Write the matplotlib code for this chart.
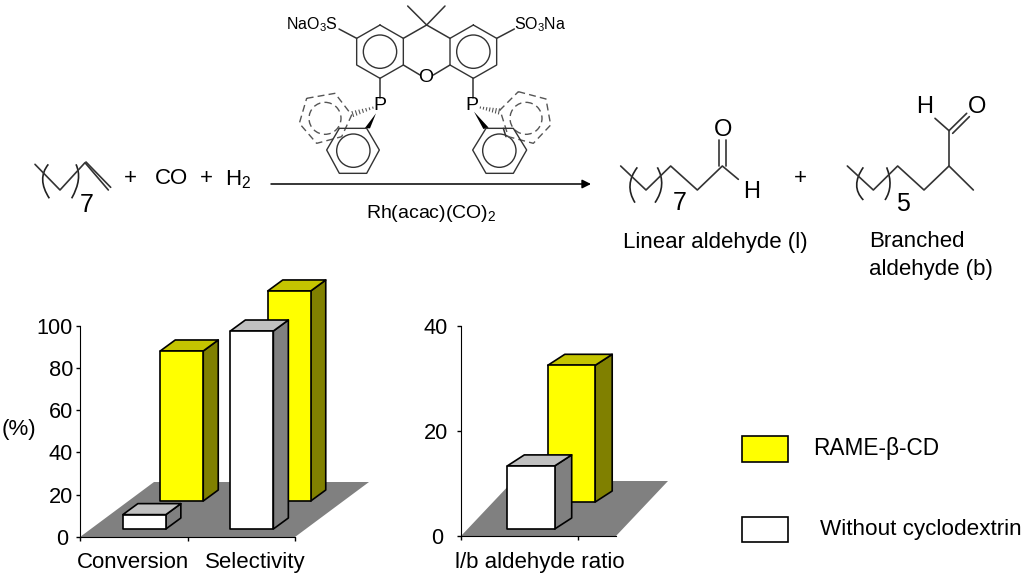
import numpy as np
import matplotlib
matplotlib.use('Agg')
import matplotlib.pyplot as plt
from matplotlib.patches import Polygon, Circle, Rectangle, PathPatch
from matplotlib.path import Path
from matplotlib.transforms import ScaledTranslation

plt.rcParams['font.family'] = ['Liberation Sans', 'DejaVu Sans']
plt.rcParams['mathtext.fontset'] = 'custom'
plt.rcParams['mathtext.rm'] = 'Liberation Sans'
plt.rcParams['mathtext.default'] = 'rm'

# chart values
categories = ['Conversion', 'Selectivity']
rame_values = [71, 99.4]
without_values = [6.8, 93.7]
ratio_label = 'l/b aldehyde ratio'
ratio_rame = 26
ratio_without = 12
legend_labels = ['RAME-\u03b2-CD', 'Without cyclodextrin']

YELLOW = ('#ffff00', '#c4c400', '#808000')
WHITE = ('#ffffff', '#c0c0c0', '#808080')
FLOOR = '#808080'
FS = 16
INK = '#333333'

fig = plt.figure(figsize=(10.24, 5.77), dpi=100, facecolor='white')


def make_axes(x0, x1, y0, y1, xlim, ylim, xticks, yticks, pad):
    ax = fig.add_axes([x0 / 1024, (577 - y0) / 577, (x1 - x0) / 1024, (y0 - y1) / 577])
    ax.set_xlim(*xlim)
    ax.set_ylim(*ylim)
    ax.set_xticks(xticks)
    ax.set_xticklabels([])
    ax.set_yticks(yticks)
    ax.tick_params(axis='y', labelsize=FS - 0.3, length=3, width=1, pad=pad)
    ax.tick_params(axis='x', length=3, width=1)
    ax.spines['top'].set_visible(False)
    ax.spines['right'].set_visible(False)
    ax.patch.set_alpha(0)
    # the zero label sits a little further left in the original
    zero = ax.get_yticklabels()[0]
    zero.set_transform(zero.get_transform() + ScaledTranslation(-0.05, 0, fig.dpi_scale_trans))
    return ax


def px_scale(ax):
    # data units per pixel
    xl, yl = ax.get_xlim(), ax.get_ylim()
    return (xl[1] - xl[0]) / ax.bbox.width, (yl[1] - yl[0]) / ax.bbox.height


def draw_floor(ax, dx, dy):
    kx, ky = px_scale(ax)
    xl = ax.get_xlim()
    ax.add_patch(Polygon([(xl[0], 0), (xl[1], 0), (xl[1] + dx * kx, dy * ky), (xl[0] + dx * kx, dy * ky)],
                         closed=True, fc=FLOOR, ec='none', clip_on=False, zorder=1))


def draw_box(ax, center, width, value, shift, colors, zorder, depth=(15, 11)):
    kx, ky = px_scale(ax)
    x0 = center - width / 2 + shift[0] * kx
    x1 = center + width / 2 + shift[0] * kx
    y0 = shift[1] * ky
    y1 = y0 + value
    ddx, ddy = depth[0] * kx, depth[1] * ky
    style = dict(closed=True, ec='black', lw=1.2, clip_on=False, zorder=zorder, joinstyle='round')
    ax.add_patch(Polygon([(x1, y0), (x1 + ddx, y0 + ddy), (x1 + ddx, y1 + ddy), (x1, y1)], fc=colors[2], **style))
    ax.add_patch(Polygon([(x0, y1), (x1, y1), (x1 + ddx, y1 + ddy), (x0 + ddx, y1 + ddy)], fc=colors[1], **style))
    ax.add_patch(Polygon([(x0, y0), (x1, y0), (x1, y1), (x0, y1)], fc=colors[0], **style))


# left chart
ax1 = make_axes(80, 295, 537, 325.7, (0, 2), (0, 100), [0, 1, 2], [0, 20, 40, 60, 80, 100], 2)
draw_floor(ax1, 74, 55)
for i in range(len(categories)):
    draw_box(ax1, i + 0.5, 0.4, rame_values[i], (48, 36), YELLOW, 3 + i)
for i in range(len(categories)):
    draw_box(ax1, i + 0.5, 0.4, without_values[i], (10.6, 8), WHITE, 6 + i)

# right chart
ax2 = make_axes(461, 616, 536, 325.7, (0, 155 / 117), (0, 40), [0, 1], [0, 20, 40], 6.5)
draw_floor(ax2, 52, 55)
draw_box(ax2, 0.5, 0.405, ratio_rame, (52, 34), YELLOW, 3, depth=(17, 11))
draw_box(ax2, 0.5, 0.405, ratio_without, (11.5, 7), WHITE, 6, depth=(17, 11))

# overlay in pixel coordinates for the reaction scheme and labels
ov = fig.add_axes([0, 0, 1, 1], zorder=20)
ov.set_xlim(0, 1024)
ov.set_ylim(577, 0)
ov.axis('off')
ov.patch.set_alpha(0)


def txt(x, y, s, size=FS, ha='center', va='center'):
    ov.text(x, y, s, fontsize=size, ha=ha, va=va, color='black')


def bond(pts, off=(0, 0), k=1 / 3, lw=1.1, color=INK, **kw):
    pts = np.array(pts, dtype=float) * k + np.array(off)
    ov.plot(pts[:, 0], pts[:, 1], color=color, lw=lw, solid_capstyle='round', **kw)


def ring(pts, center, r, off, dashed=False):
    ls = (0, (5, 3)) if dashed else '-'
    c = '#555555' if dashed else INK
    bond(list(pts) + [pts[0]], off, linestyle=ls, color=c, lw=1.0)
    cx, cy = center[0] / 3 + off[0], center[1] / 3 + off[1]
    ov.add_patch(Circle((cx, cy), r / 3, fill=False, ec=c, lw=1.0, ls=ls))


def paren(p0, mid, p1, off):
    # curved bracket through mid
    p0, mid, p1 = [np.array(p, dtype=float) / 3 + np.array(off) for p in (p0, mid, p1)]
    ctrl = 2 * mid - (p0 + p1) / 2
    path = Path([p0, ctrl, p1], [Path.MOVETO, Path.CURVE3, Path.CURVE3])
    ov.add_patch(PathPatch(path, fill=False, ec='#222222', lw=1.2))


def hashed(p0, p1, off, n=7):
    p0, p1 = np.array(p0, dtype=float) / 3 + np.array(off), np.array(p1, dtype=float) / 3 + np.array(off)
    d = p1 - p0
    nrm = np.array([-d[1], d[0]]) / np.hypot(*d)
    for t in np.linspace(0.05, 0.95, n):
        c = p0 + d * t
        h = 0.4 + 2.2 * t
        ov.plot([c[0] - nrm[0] * h, c[0] + nrm[0] * h], [c[1] - nrm[1] * h, c[1] + nrm[1] * h], color='#555555', lw=0.8)


txt(19, 430, '(%)')
txt(133, 567.7, categories[0], va='baseline')
txt(255, 567.7, categories[1], va='baseline')
txt(540, 568, ratio_label, va='baseline')

# legend
ov.add_patch(Rectangle((742, 436), 46, 26, fc=YELLOW[0], ec='black', lw=1.2))
ov.add_patch(Rectangle((742, 517), 46, 25, fc='white', ec='black', lw=1.2))
txt(813, 449, legend_labels[0], size=16.3, ha='left')
txt(820, 530, legend_labels[1], size=16.2, ha='left')

# catalyst ligand
L = (270, 0)
ring([(330, 75), (400, 115), (400, 195), (330, 235), (260, 195), (260, 115)], (330, 155), 50, L)
ring([(610, 75), (680, 115), (680, 195), (610, 235), (540, 195), (540, 115)], (610, 155), 50, L)
bond([(400, 115), (470, 75), (540, 115)], L)
bond([(413, 18), (470, 75), (525, 18)], L)
bond([(400, 195), (450, 225)], L)
bond([(540, 195), (490, 225)], L)
bond([(260, 115), (207, 87)], L)
bond([(680, 115), (733, 87)], L)
bond([(330, 235), (330, 295)], L)
bond([(610, 235), (610, 295)], L)
ring([(110, 295), (195, 280), (245, 345), (215, 410), (140, 430), (88, 370)], (165, 355), 48, L, dashed=True)
ring([(745, 275), (828, 297), (842, 375), (790, 430), (715, 410), (690, 330)], (768, 355), 48, L, dashed=True)
ring([(208, 385), (290, 385), (328, 450), (290, 520), (208, 520), (170, 450)], (250, 452), 50, L)
ring([(648, 385), (730, 385), (770, 450), (730, 520), (648, 520), (608, 450)], (688, 452), 50, L)
bond([(700, 385), (708, 410)], L)
hashed((312, 322), (245, 343), L)
hashed((628, 322), (690, 335), L)
for pts in ([(318, 340), (284, 385), (300, 385)], [(612, 335), (640, 387), (656, 383)]):
    ov.add_patch(Polygon(np.array(pts) / 3 + np.array(L), closed=True, fc='black', ec='none'))
txt(426, 78, 'O', size=14)
txt(380, 105, 'P', size=14)
txt(472, 105, 'P', size=14)
txt(338, 25, 'NaO$_3$S', size=11.5, ha='right')
txt(514, 25, 'SO$_3$Na', size=11.5, ha='left')

# 1-decene
S = (0, 140)
bond([(105, 73), (180, 150), (255, 68), (325, 150)], S, lw=1.2)
bond([(258, 66), (332, 142)], S, lw=1.2)
paren((145, 73), (128, 120), (148, 175), S)
paren((215, 175), (235, 120), (228, 73), S)
txt(87, 205, '7', size=18)
txt(130, 178, '+')
txt(172, 178, 'CO')
txt(206, 178, '+')
txt(238, 180, 'H$_2$')

# reaction arrow
ov.annotate('', xy=(591, 184), xytext=(271, 184),
            arrowprops=dict(arrowstyle='-|>', color='black', lw=1.1, shrinkA=0, shrinkB=0, mutation_scale=13))
txt(431, 214, 'Rh(acac)(CO)$_2$', size=14)

# products
P = (600, 90)
bond([(62, 228), (138, 300), (212, 228), (292, 300), (367, 228), (415, 268)], P, lw=1.2)
bond([(358, 228), (358, 150)], P, lw=1.2)
bond([(378, 228), (378, 150)], P, lw=1.2)
paren((112, 232), (90, 285), (105, 338), P)
paren((165, 338), (185, 285), (172, 232), P)
txt(723, 130, 'O', size=17)
txt(752, 192, 'H', size=17)
txt(680, 203, '7', size=18)
txt(800, 178, '+')
bond([(742, 228), (820, 300), (893, 228), (972, 300), (1047, 228), (1120, 300)], P, lw=1.2)
bond([(1047, 228), (1047, 122), (1005, 85)], P, lw=1.2)
bond([(1047, 122), (1100, 70)], P, lw=1.2)
bond([(1058, 130), (1108, 80)], P, lw=1.2)
paren((790, 232), (770, 285), (790, 330), P)
paren((855, 330), (870, 285), (860, 232), P)
txt(925, 107, 'H', size=17)
txt(977, 107, 'O', size=17)
txt(903, 204, '5', size=18)
txt(715, 248, 'Linear aldehyde (l)', va='baseline')
txt(869, 246.7, 'Branched', ha='left', va='baseline')
txt(869, 275, 'aldehyde (b)', ha='left', va='baseline')

fig.savefig('out.png', dpi=100)
